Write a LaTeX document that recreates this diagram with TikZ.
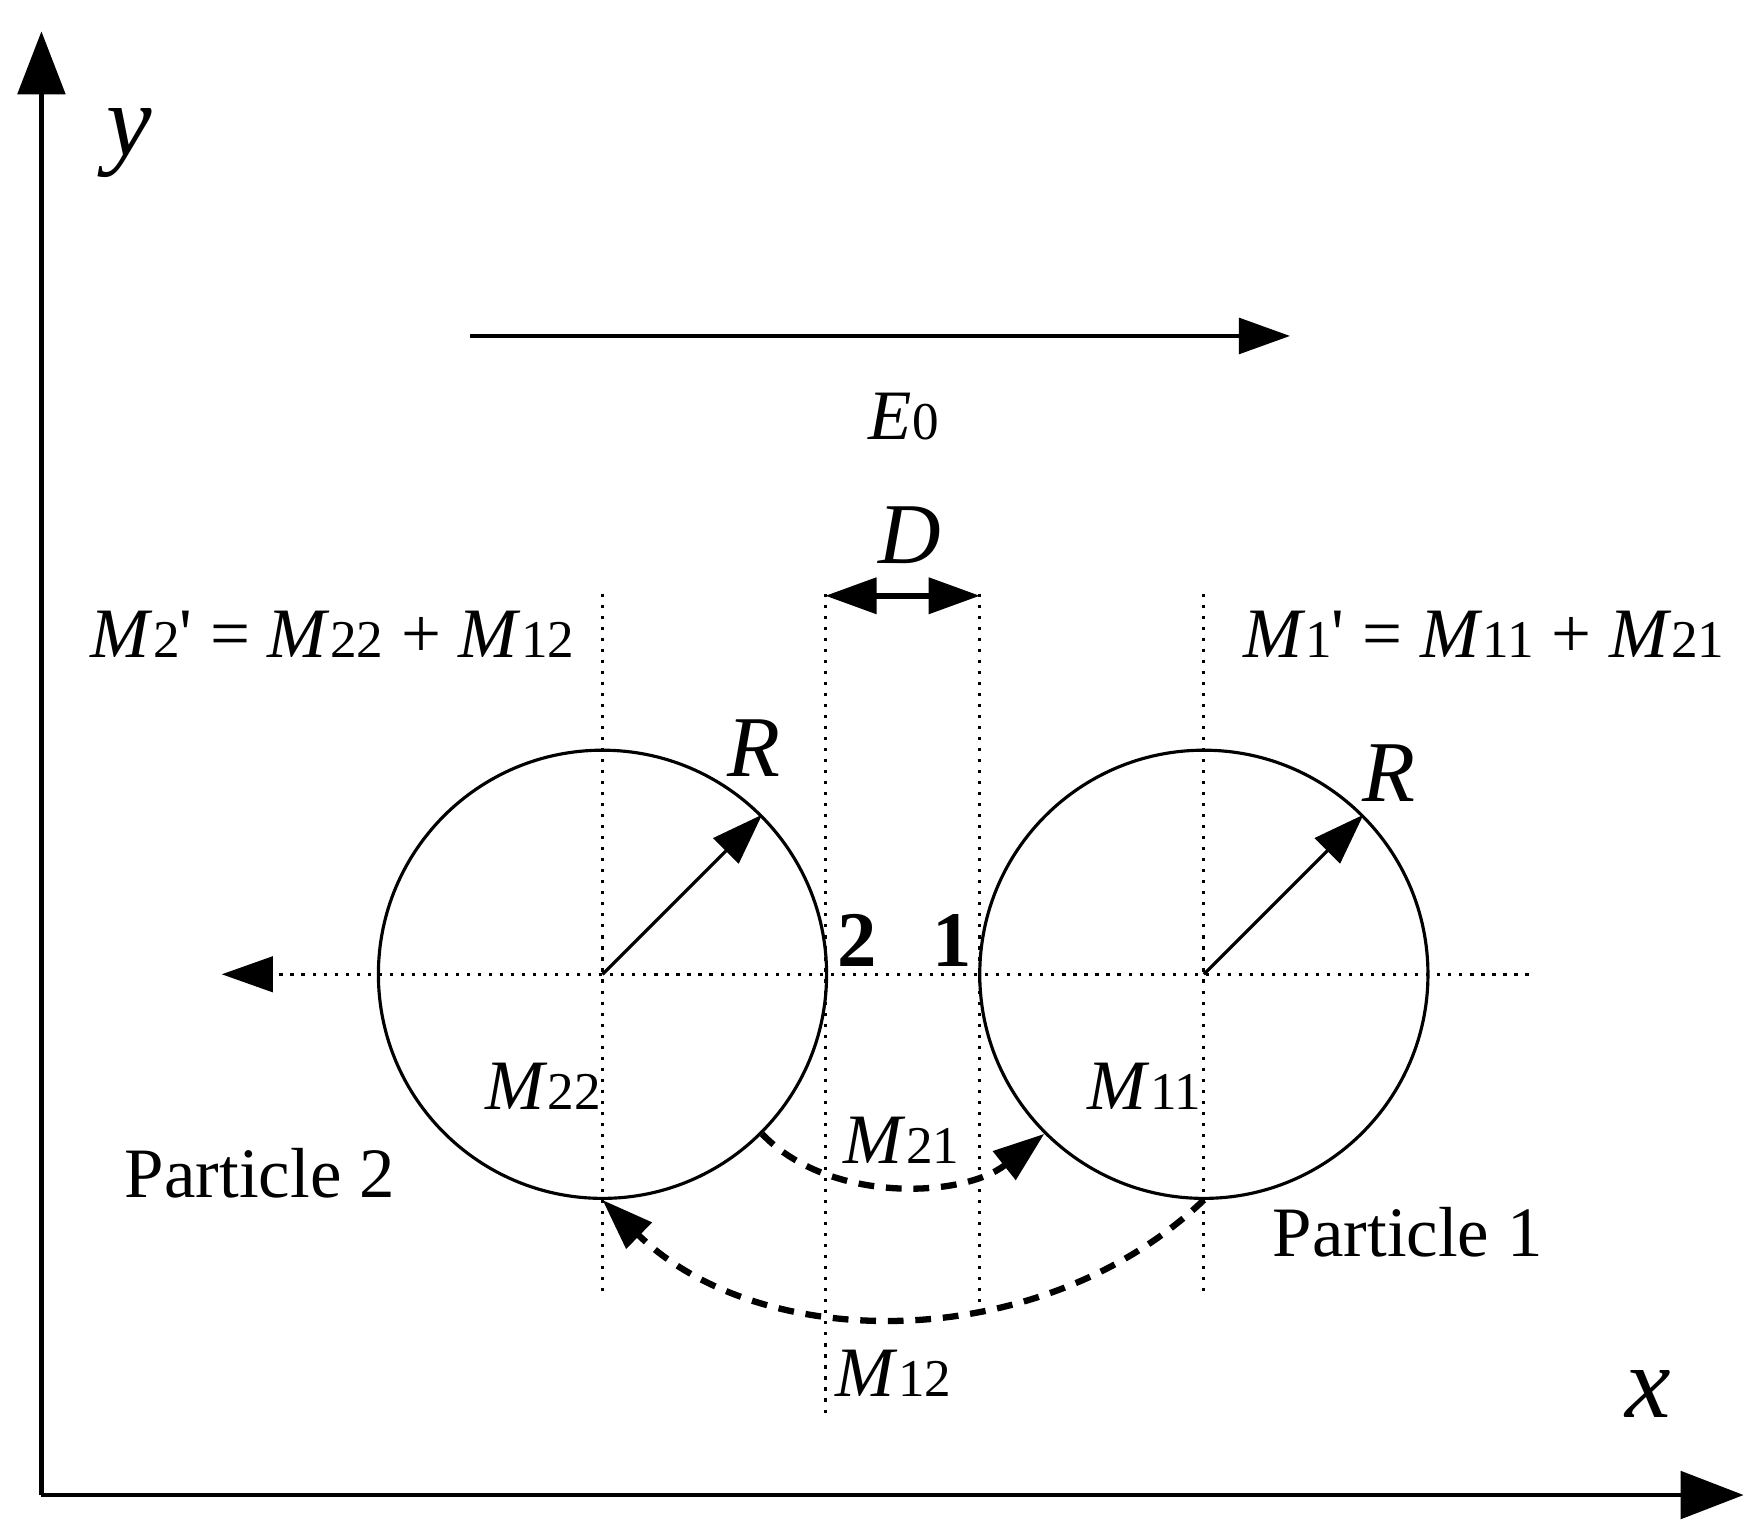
\documentclass[tikz,border=0pt]{standalone}
\usepackage{fontspec}
\setmainfont{Liberation Serif}
\usetikzlibrary{arrows.meta}
\newcommand{\Msub}[2]{\textit{#1}{\fontsize{13.5}{16}\selectfont #2}}
\begin{document}
\begin{tikzpicture}[x=0.01cm,y=-0.01cm,
  ax/.style={line width=1.2pt,-{Triangle[length=16pt,width=12pt]}},
  tip/.style={-{Triangle[length=13pt,width=9pt]}},
  dot/.style={dotted,line width=0.8pt},
  dsh/.style={line width=1.6pt,dash pattern=on 4pt off 3pt},
  lab/.style={font=\fontsize{18}{22}\selectfont,inner sep=0pt}]
\useasboundingbox (0,0) rectangle (1560,1364);
\coordinate (O) at (37,1335);
\coordinate (Y) at (37,28);
\coordinate (X) at (1557,1335);
\draw[ax] (O) -- (Y);
\draw[ax] (O) -- (X);
\node[lab,font=\fontsize{26}{28}\selectfont\itshape] (ly) at (115,128) {y};
\node[lab,font=\fontsize{26}{28}\selectfont\itshape] (lx) at (1472,1245) {x};
% field
\coordinate (e1) at (420,300); \coordinate (e2) at (1152,300);
\draw[line width=1.2pt,tip] (e1) -- (e2);
\node[lab] (E) at (807,372) {\Msub{E}{0}};
% particles
\node[circle,draw,line width=0.8pt,minimum size=4cm,inner sep=0] (c2) at (538,870) {};
\node[circle,draw,line width=0.8pt,minimum size=4cm,inner sep=0] (c1) at (1075,870) {};
\coordinate (h1) at (1365,870); \coordinate (h2) at (198,870);
\draw[dot,tip] (h1) -- (h2);
\coordinate (v1a) at (538,530); \coordinate (v1b) at (538,1160);
\coordinate (v2a) at (737,530); \coordinate (v2b) at (737,1265);
\coordinate (v3a) at (875,530); \coordinate (v3b) at (875,1170);
\coordinate (v4a) at (1075,530); \coordinate (v4b) at (1075,1160);
\draw[dot] (v1a)--(v1b) (v2a)--(v2b) (v3a)--(v3b) (v4a)--(v4b);
\coordinate (d1) at (737,532); \coordinate (d2) at (875,532);
\draw[line width=1.4pt,{Triangle[length=13pt,width=9pt]}-{Triangle[length=13pt,width=9pt]}] (d1) -- (d2);
\node[lab,font=\fontsize{22}{24}\selectfont\itshape] (D) at (812,478) {D};
\draw[line width=0.8pt,tip] (c2.center) -- (c2.45);
\draw[line width=0.8pt,tip] (c1.center) -- (c1.45);
\node[lab,font=\fontsize{22}{24}\selectfont\itshape] (R2) at (673,668) {R};
\node[lab,font=\fontsize{22}{24}\selectfont\itshape] (R1) at (1240,690) {R};
\node[lab,font=\fontsize{20}{22}\selectfont\bfseries] (n2) at (765,840) {2};
\node[lab,font=\fontsize{20}{22}\selectfont\bfseries] (n1) at (850,840) {1};
\node[lab] (m22) at (485,970) {\Msub{M}{22}};
\node[lab] (m11) at (1022,970) {\Msub{M}{11}};
\node[lab] (m21) at (805,1018) {\Msub{M}{21}};
\node[lab] (m12) at (798,1226) {\Msub{M}{12}};
\node[lab] (p2) at (232,1048) {Particle 2};
\node[lab] (p1) at (1257,1100) {Particle 1};
\node[lab] (f2) at (297,566) {\Msub{M}{2}\textquotesingle{} = \Msub{M}{22} + \Msub{M}{12}};
\node[lab] (f1) at (1325,566) {\Msub{M}{1}\textquotesingle{} = \Msub{M}{11} + \Msub{M}{21}};
\draw[dsh,tip] (c2.-45) .. controls (740,1075) and (860,1070) .. (c1.-135);
\draw[dsh,tip] (c1.-90) .. controls (930,1210) and (680,1210) .. (c2.-90);
\end{tikzpicture}
\end{document}
